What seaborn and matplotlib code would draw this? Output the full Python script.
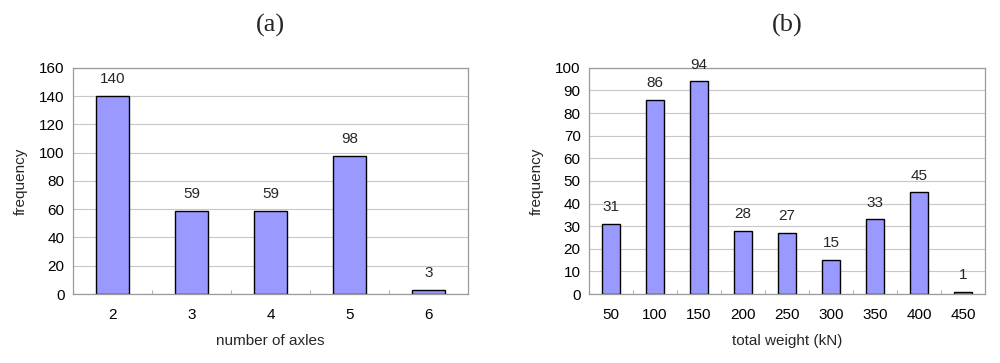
import matplotlib
matplotlib.use("Agg")
import matplotlib.pyplot as plt
import seaborn as sns
import pandas as pd
import numpy as np

axles = ["2", "3", "4", "5", "6"]
axle_freq = [140, 59, 59, 98, 3]

weights = ["50", "100", "150", "200", "250", "300", "350", "400", "450"]
weight_freq = [31, 86, 94, 28, 27, 15, 33, 45, 1]

sns.set_theme(style="white")
plt.rcParams['font.family'] = ['Liberation Sans', 'DejaVu Sans']

fig = plt.figure(figsize=(10, 3.63), dpi=100)
ax1 = fig.add_axes([0.073, 0.19, 0.395, 0.623])
ax2 = fig.add_axes([0.589, 0.19, 0.396, 0.623])

def draw(ax, cats, vals, ymax, step, xlabel, title):
    df = pd.DataFrame({"cat": cats, "val": vals})
    sns.barplot(data=df, x="cat", y="val", ax=ax, color="#9999FF",
                saturation=1, width=0.42, edgecolor="black", linewidth=1.0,
                order=cats)
    ax.set_ylim(0, ymax)
    ax.set_xlim(-0.5, len(cats) - 0.5)
    ax.set_yticks(np.arange(0, ymax + 1, step))
    ax.yaxis.grid(True, color="#c8c8c8", linewidth=0.8)
    ax.set_axisbelow(True)
    for s in ax.spines.values():
        s.set_color("#9a9a9a")
        s.set_linewidth(0.9)
    ax.tick_params(axis="y", labelsize=11, length=0, pad=6, colors="black")
    ax.tick_params(axis="x", labelsize=11, length=0, pad=10, colors="black")
    # category separator tick marks (inward) on the x axis
    ax.set_xticks(np.arange(0.5, len(cats) - 1, 1), minor=True)
    ax.tick_params(axis="x", which="minor", direction="in", length=3,
                   color="#b0b0b0", width=0.8, bottom=True)
    ax.bar_label(ax.containers[0], labels=[str(v) for v in vals],
                 padding=7, fontsize=11)
    ax.set_xlabel(xlabel, fontsize=11, labelpad=9)
    ax.set_ylabel("frequency", fontsize=11, labelpad=8)
    ax.set_title(title, fontsize=19, family="Liberation Serif", pad=26)

draw(ax1, axles, axle_freq, 160, 20, "number of axles", "(a)")
draw(ax2, weights, weight_freq, 100, 10, "total weight (kN)", "(b)")

fig.savefig("out.png", dpi=100, facecolor="white")
